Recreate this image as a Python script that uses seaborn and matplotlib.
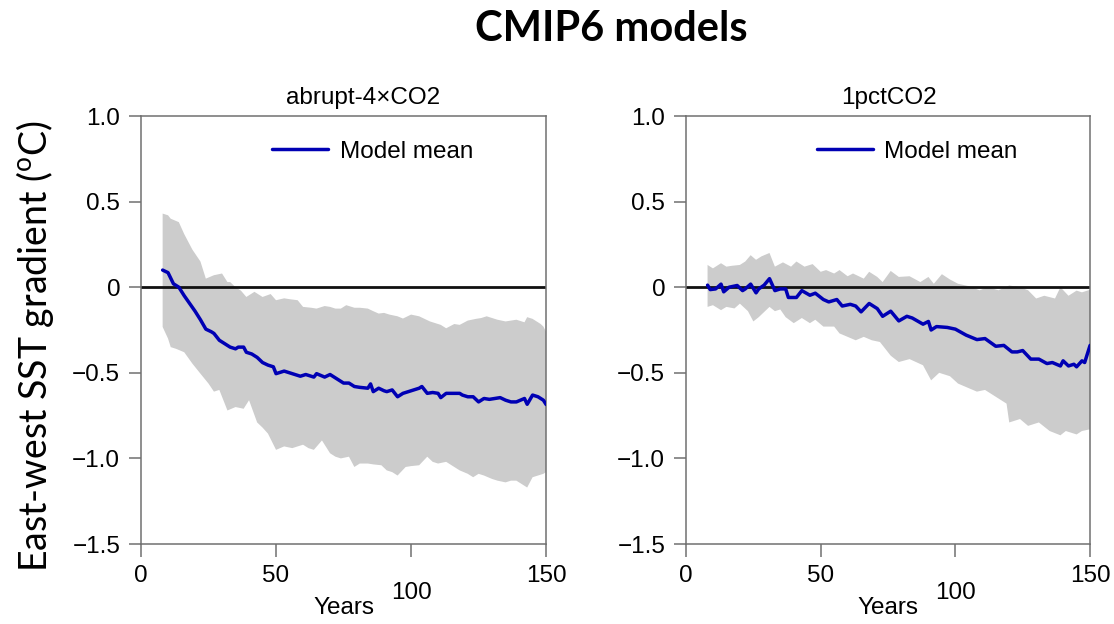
import numpy as np
import pandas as pd
import matplotlib
matplotlib.use("Agg")
import matplotlib.pyplot as plt
import seaborn as sns

# ---------------- data ----------------
panel_titles = ["abrupt-4\u00d7CO2", "1pctCO2"]
x_ticks = [0, 50, 100, 150]
y_ticks = [1.0, 0.5, 0.0, -0.5, -1.0, -1.5]
y_tick_labels = ["1.0", "0.5", "0", "\u22120.5", "\u22121.0", "\u22121.5"]

# abrupt-4xCO2 model mean
a4_mean_years = [8, 10, 12, 14, 16, 18, 20, 22, 24, 26, 27, 29, 31, 33, 35, 36, 38, 39, 41, 43,
                 45, 47, 49, 50, 53, 55, 56, 59, 61, 64, 65, 68, 70, 72, 75, 77, 79, 81, 84, 85,
                 86, 88, 90, 91, 93, 95, 97, 99, 101, 103, 104, 106, 108, 110, 111, 113, 116, 118,
                 119, 121, 123, 125, 127, 129, 131, 133, 135, 137, 139, 142, 143, 145, 147, 149, 150]
a4_mean = [0.10, 0.085, 0.02, 0.0, -0.05, -0.095, -0.14, -0.19, -0.245, -0.26, -0.27, -0.31, -0.33,
           -0.35, -0.36, -0.35, -0.35, -0.38, -0.39, -0.41, -0.44, -0.455, -0.465, -0.505, -0.49,
           -0.50, -0.505, -0.52, -0.51, -0.525, -0.505, -0.525, -0.51, -0.53, -0.56, -0.56, -0.58,
           -0.585, -0.59, -0.565, -0.61, -0.59, -0.605, -0.61, -0.60, -0.64, -0.62, -0.61, -0.60,
           -0.59, -0.58, -0.62, -0.615, -0.62, -0.645, -0.62, -0.62, -0.62, -0.63, -0.64, -0.64,
           -0.67, -0.65, -0.655, -0.65, -0.645, -0.66, -0.67, -0.67, -0.65, -0.684, -0.63, -0.64,
           -0.66, -0.685]

# abrupt-4xCO2 model spread (upper / lower envelope)
a4_upper_years = [8, 10, 11, 14, 16, 19, 22, 24, 27, 30, 32, 33, 35, 37, 39, 42, 45, 48, 50, 53,
                  55, 58, 60, 63, 65, 68, 70, 72, 74, 76, 79, 81, 84, 86, 88, 90, 92, 95, 97, 100,
                  103, 105, 107, 109, 111, 113, 116, 118, 121, 124, 126, 128, 130, 132, 135, 137,
                  139, 142, 143, 145, 148, 149, 150]
a4_upper = [0.43, 0.42, 0.40, 0.38, 0.31, 0.22, 0.15, 0.05, 0.07, 0.08, 0.03, 0.03, 0.0, -0.02,
            -0.057, -0.027, -0.057, -0.04, -0.076, -0.065, -0.07, -0.076, -0.115, -0.12, -0.125,
            -0.11, -0.115, -0.125, -0.125, -0.105, -0.12, -0.12, -0.125, -0.14, -0.154, -0.15,
            -0.16, -0.17, -0.183, -0.16, -0.17, -0.185, -0.2, -0.21, -0.22, -0.24, -0.215, -0.22,
            -0.195, -0.185, -0.18, -0.17, -0.18, -0.19, -0.2, -0.195, -0.19, -0.205, -0.175,
            -0.185, -0.215, -0.23, -0.26]
a4_lower_years = [8, 10, 11, 13, 16, 19, 22, 25, 27, 29, 32, 35, 38, 40, 43, 45, 47, 50, 53, 56,
                  58, 60, 62, 64, 67, 70, 72, 74, 77, 79, 81, 84, 86, 89, 91, 93, 95, 98, 100, 103,
                  106, 108, 110, 113, 116, 118, 121, 123, 125, 127, 130, 132, 135, 137, 139, 141,
                  143, 145, 147, 149, 150]
a4_lower = [-0.232, -0.30, -0.35, -0.36, -0.38, -0.446, -0.505, -0.563, -0.61, -0.60, -0.72, -0.70,
            -0.71, -0.66, -0.79, -0.82, -0.855, -0.95, -0.93, -0.94, -0.93, -0.92, -0.94, -0.95,
            -0.895, -0.97, -0.99, -1.0, -0.99, -1.05, -1.03, -1.03, -1.035, -1.04, -1.07, -1.08,
            -1.10, -1.05, -1.045, -1.04, -0.99, -1.02, -1.03, -1.02, -1.05, -1.07, -1.09, -1.11,
            -1.09, -1.10, -1.12, -1.13, -1.14, -1.13, -1.13, -1.15, -1.17, -1.11, -1.10, -1.09,
            -1.08]

# 1pctCO2 model mean
p1_mean_years = [8, 9, 11, 13, 14, 16, 19, 21, 22, 24, 26, 27, 29, 31, 33, 35, 37, 38, 41, 43, 46,
                 48, 51, 53, 56, 58, 61, 63, 65, 68, 71, 73, 76, 79, 82, 84, 88, 90, 91, 93, 97,
                 100, 104, 108, 111, 115, 118, 121, 123, 125, 128, 131, 134, 136, 139, 140, 142,
                 144, 145, 147, 148, 150]
p1_mean = [0.012, -0.014, -0.01, 0.018, -0.027, 0.0, 0.01, -0.02, -0.01, 0.018, -0.033, -0.01,
           0.012, 0.05, -0.02, -0.01, -0.01, -0.06, -0.06, -0.02, -0.047, -0.035, -0.072, -0.086,
           -0.072, -0.11, -0.1, -0.11, -0.144, -0.095, -0.125, -0.17, -0.14, -0.197, -0.17, -0.18,
           -0.216, -0.20, -0.25, -0.23, -0.235, -0.245, -0.28, -0.306, -0.30, -0.345, -0.34,
           -0.378, -0.378, -0.37, -0.42, -0.42, -0.446, -0.44, -0.46, -0.43, -0.46, -0.45, -0.465,
           -0.43, -0.44, -0.34]

# 1pctCO2 model spread
p1_upper_years = [8, 10, 13, 15, 17, 20, 22, 24, 26, 28, 31, 33, 36, 39, 41, 44, 47, 50, 52, 55,
                  57, 60, 62, 66, 68, 71, 73, 76, 79, 83, 87, 90, 92, 95, 98, 101, 105, 109, 112,
                  116, 120, 124, 127, 130, 133, 137, 139, 142, 145, 147, 150]
p1_upper = [0.13, 0.11, 0.14, 0.12, 0.125, 0.13, 0.15, 0.187, 0.16, 0.18, 0.20, 0.12, 0.145, 0.12,
            0.15, 0.12, 0.135, 0.09, 0.10, 0.08, 0.10, 0.064, 0.08, 0.05, 0.09, 0.06, 0.03, 0.095,
            0.06, 0.064, 0.03, 0.06, 0.02, 0.076, 0.045, 0.02, 0.006, -0.018, 0.0, -0.018, 0.01,
            0.0, -0.018, -0.066, -0.05, -0.066, 0.0, -0.05, -0.02, -0.03, -0.015]
p1_lower_years = [8, 10, 13, 15, 18, 20, 23, 25, 27, 31, 33, 35, 37, 40, 43, 46, 48, 51, 55, 57,
                  60, 63, 66, 69, 72, 73, 76, 79, 83, 88, 91, 94, 98, 101, 105, 108, 111, 115, 119,
                  120, 124, 127, 131, 135, 139, 141, 145, 147, 150]
p1_lower = [-0.115, -0.105, -0.134, -0.115, -0.124, -0.096, -0.14, -0.20, -0.175, -0.115, -0.14,
            -0.13, -0.175, -0.21, -0.18, -0.21, -0.19, -0.23, -0.23, -0.27, -0.29, -0.31, -0.29,
            -0.31, -0.32, -0.34, -0.40, -0.437, -0.42, -0.456, -0.544, -0.50, -0.52, -0.563,
            -0.59, -0.61, -0.60, -0.64, -0.68, -0.79, -0.77, -0.81, -0.79, -0.84, -0.865, -0.84,
            -0.86, -0.84, -0.83]

# ---------------- style ----------------
sns.set_style("ticks")
plt.rcParams["font.family"] = ["Liberation Sans", "DejaVu Sans"]
plt.rcParams["mathtext.fontset"] = "custom"
plt.rcParams["mathtext.rm"] = "Lato"
plt.rcParams["text.color"] = "black"
plt.rcParams["axes.labelcolor"] = "black"

LINE_BLUE = "#0000b4"
FILL_GREY = "#cccccc"
FRAME = "#707070"
FS = 17.5

fig = plt.figure(figsize=(11.14, 6.24), dpi=100)
ax_left = fig.add_axes([0.1266, 0.1282, 0.3636, 0.6859])
ax_right = fig.add_axes([0.6158, 0.1282, 0.3627, 0.6859])

panels = [
    (ax_left, panel_titles[0], 0.548, a4_mean_years, a4_mean, a4_upper_years, a4_upper, a4_lower_years, a4_lower),
    (ax_right, panel_titles[1], 0.503, p1_mean_years, p1_mean, p1_upper_years, p1_upper, p1_lower_years, p1_lower),
]

for ax, title, tx, my, mv, uy, uv, ly, lv in panels:
    # spread envelope as polygon: upper edge then lower edge reversed
    poly_x = list(uy) + list(ly[::-1])
    poly_y = list(uv) + list(lv[::-1])
    ax.fill(poly_x, poly_y, color=FILL_GREY, lw=0, zorder=1)
    ax.axhline(0, color="#111111", lw=2.0, zorder=2)
    df = pd.DataFrame({"Years": my, "gradient": mv})
    sns.lineplot(data=df, x="Years", y="gradient", ax=ax, color=LINE_BLUE, lw=2.5,
                 label="Model mean", zorder=3)

    ax.set_xlim(0, 150)
    ax.set_ylim(-1.5, 1.0)
    ax.set_xticks(x_ticks)
    ax.set_xticklabels([str(t) for t in x_ticks])
    ax.set_yticks(y_ticks)
    ax.set_yticklabels(y_tick_labels)
    ax.tick_params(axis="both", direction="out", length=9, width=1.1, color=FRAME,
                   labelsize=FS, labelcolor="black", pad=6)
    for sp in ax.spines.values():
        sp.set_visible(True)
        sp.set_color(FRAME)
        sp.set_linewidth(1.1)
    ax.set_xlabel("Years", fontsize=FS, color="black")
    ax.xaxis.set_label_coords(0.5, -0.123)
    ax.set_ylabel("")
    ax.set_title(title, fontsize=FS, pad=9, x=tx, color="black")
    # the "100" label sits lower in the original figure
    ax.xaxis.get_major_ticks()[2].set_pad(18)
    leg = ax.legend(frameon=False, loc="center left", bbox_to_anchor=(0.30, 0.916),
                    handlelength=2.3, handletextpad=0.47, fontsize=FS, borderaxespad=0)
    for t in leg.get_texts():
        t.set_color("black")

fig.text(0.031, 0.445, r"East-west SST gradient ($^{\rm o}$C)", rotation=90,
         ha="center", va="center", fontsize=27, family="Lato", color="black")
fig.text(0.549, 0.953, "CMIP6 models", ha="center", va="center", fontsize=30,
         family="Lato", fontweight="bold", color="black")

fig.savefig("out.png", dpi=100)
